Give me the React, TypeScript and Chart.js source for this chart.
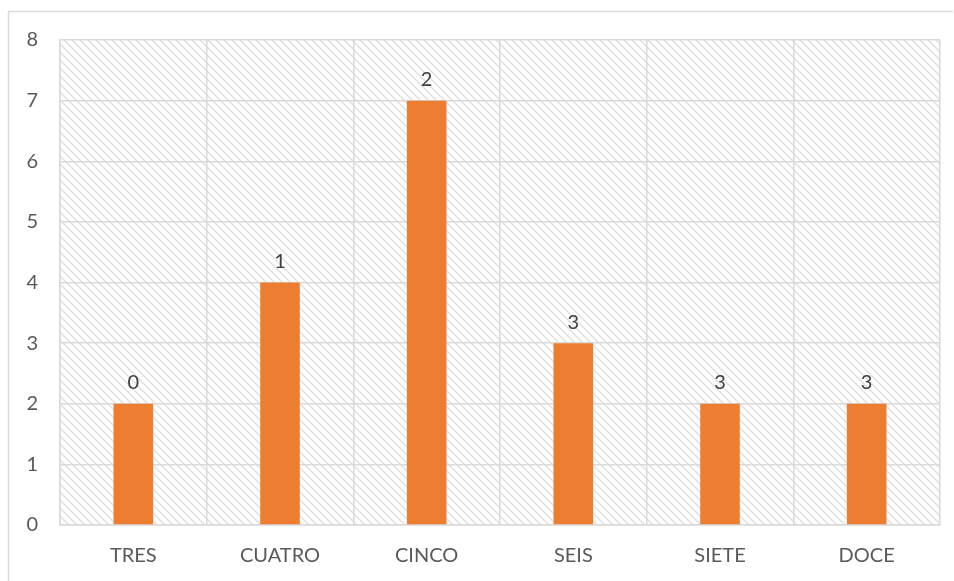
import React, { useEffect, useRef } from "react";
import { Chart, registerables } from "chart.js";

Chart.register(...registerables);

const categories = ["TRES", "CUATRO", "CINCO", "SEIS", "SIETE", "DOCE"];
const values = [2, 4, 7, 3, 2, 2];
const dataLabels = ["0", "1", "2", "3", "3", "3"];
const yTicks = [0, 1, 2, 3, 4, 5, 6, 7, 8];

const FONT = "Lato, 'Open Sans', sans-serif";
const TEXT = "#595959";
const GRID = "#d9d9d9";

function makePattern(ctx: CanvasRenderingContext2D) {
  const size = 8;
  const c = document.createElement("canvas");
  c.width = size;
  c.height = size;
  const p = c.getContext("2d")!;
  p.fillStyle = "#ffffff";
  p.fillRect(0, 0, size, size);
  p.strokeStyle = "#e4e4e4";
  p.lineWidth = 1.8;
  p.beginPath();
  p.moveTo(-2, -2);
  p.lineTo(size + 2, size + 2);
  p.moveTo(-2, size - 2);
  p.lineTo(2, size + 2);
  p.moveTo(size - 2, -2);
  p.lineTo(size + 2, 2);
  p.stroke();
  return ctx.createPattern(c, "repeat")!;
}

const bgPlugin = {
  id: "bgPlugin",
  beforeDraw(chart: any) {
    const { ctx, chartArea } = chart;
    ctx.save();
    ctx.strokeStyle = GRID;
    ctx.lineWidth = 1.5;
    ctx.beginPath();
    ctx.moveTo(8.5, 600);
    ctx.lineTo(8.5, 11.5);
    ctx.lineTo(953, 11.5);
    ctx.stroke();
    ctx.fillStyle = makePattern(ctx);
    ctx.fillRect(chartArea.left, chartArea.top, chartArea.right - chartArea.left, chartArea.bottom - chartArea.top);
    ctx.restore();
  },
};

const labelPlugin = {
  id: "labelPlugin",
  afterDatasetsDraw(chart: any) {
    const { ctx } = chart;
    const meta = chart.getDatasetMeta(0);
    ctx.save();
    ctx.fillStyle = "#404040";
    ctx.font = `20px ${FONT}`;
    ctx.textAlign = "center";
    ctx.textBaseline = "bottom";
    meta.data.forEach((bar: any, i: number) => {
      ctx.fillText(dataLabels[i], bar.x, bar.y - 11);
    });
    ctx.restore();
  },
};

export default function App() {
  const ref = useRef<HTMLCanvasElement>(null);
  useEffect(() => {
    const chart = new Chart(ref.current!, {
      type: "bar",
      data: {
        labels: categories,
        datasets: [
          {
            data: values,
            backgroundColor: "#ED7D31",
            borderWidth: 0,
            barPercentage: 0.27,
            categoryPercentage: 1,
          },
        ],
      },
      options: {
        responsive: false,
        animation: false,
        layout: { padding: { left: 0, top: 40, right: 14, bottom: 0 } },
        plugins: { legend: { display: false }, tooltip: { enabled: false } },
        scales: {
          x: {
            offset: true,
            grid: { color: GRID, lineWidth: 1.5, offset: true, drawTicks: false },
            border: { color: GRID, width: 1.5 },
            ticks: { color: TEXT, font: { family: FONT, size: 20 }, padding: 19 },
            afterFit: (axis: any) => {
              axis.height = 56;
            },
          },
          y: {
            min: 0,
            max: 8,
            afterBuildTicks: (axis: any) => {
              axis.ticks = yTicks.map((v) => ({ value: v }));
            },
            grid: { color: GRID, lineWidth: 1.5, drawTicks: false },
            border: { color: GRID, width: 1.5 },
            ticks: { color: TEXT, font: { family: FONT, size: 20 }, padding: 22 },
            afterFit: (axis: any) => {
              axis.width = 60;
            },
          },
        },
      },
      plugins: [bgPlugin, labelPlugin],
    });
    return () => chart.destroy();
  }, []);
  return (
    <div style={{ position: "fixed", left: 0, top: 0, width: 954, height: 581, background: "#fff" }}>
      <canvas ref={ref} width={954} height={581} style={{ width: 954, height: 581 }} />
    </div>
  );
}
